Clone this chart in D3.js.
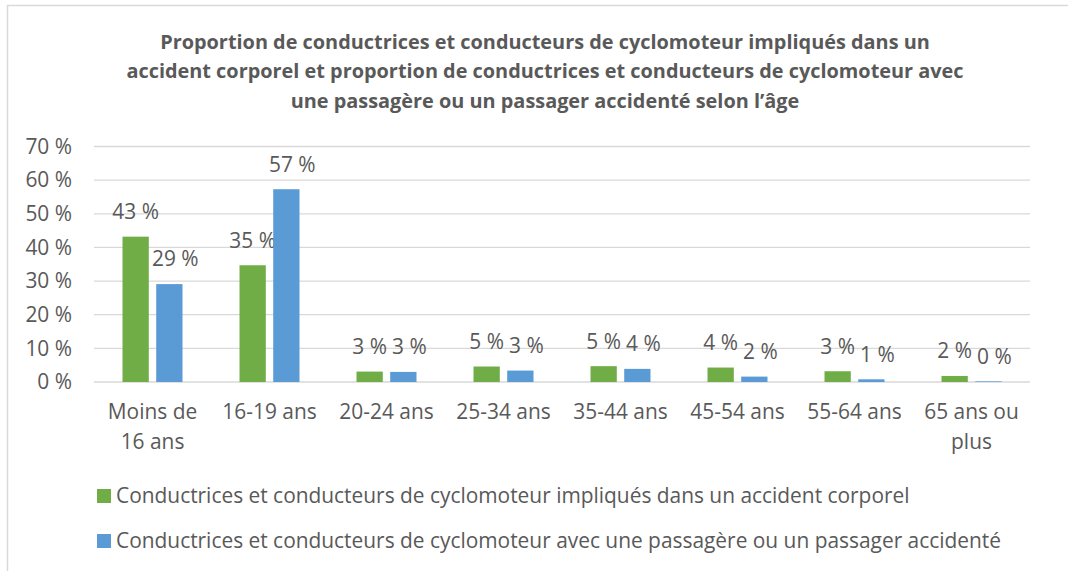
<!DOCTYPE html>
<html>
<head>
<meta charset="utf-8">
<script src="https://cdn.jsdelivr.net/npm/d3@7"></script>
<style>
  body { margin: 0; background: #fff; }
  text { font-family: "Open Sans", sans-serif; fill: #595959; }
</style>
</head>
<body>
<div id="chart"></div>
<script>
// data
var categories = ["Moins de 16 ans", "16-19 ans", "20-24 ans", "25-34 ans", "35-44 ans", "45-54 ans", "55-64 ans", "65 ans ou plus"];
var catLines = [["Moins de", "16 ans"], ["16-19 ans"], ["20-24 ans"], ["25-34 ans"], ["35-44 ans"], ["45-54 ans"], ["55-64 ans"], ["65 ans ou", "plus"]];
var impliques = [43.2, 34.7, 3.1, 4.6, 4.7, 4.3, 3.2, 1.8];
var passagers = [29.1, 57.3, 3.0, 3.4, 3.9, 1.6, 0.8, 0.2];
var labelsImpliques = ["43 %", "35 %", "3 %", "5 %", "5 %", "4 %", "3 %", "2 %"];
var labelsPassagers = ["29 %", "57 %", "3 %", "3 %", "4 %", "2 %", "1 %", "0 %"];
var yTicks = [0, 10, 20, 30, 40, 50, 60, 70];
var seriesNames = [
    "Conductrices et conducteurs de cyclomoteur impliqués dans un accident corporel",
    "Conductrices et conducteurs de cyclomoteur avec une passagère ou un passager accidenté"
];
var titleLines = [
    "Proportion de conductrices et conducteurs de cyclomoteur impliqués dans un",
    "accident corporel et proportion de conductrices et conducteurs de cyclomoteur avec",
    "une passagère ou un passager accidenté selon l’âge"
];

var width = 1068, height = 571;
var colors = ["#70AD47", "#5B9BD5"];

var svg = d3.select("#chart").append("svg")
    .attr("width", width)
    .attr("height", height);

// size a font so that a sample string takes a given width
function fitSize(str, target, weight) {
    var t = svg.append("text")
        .style("font-size", "20px")
        .style("font-weight", weight)
        .text(str);
    var w = t.node().getComputedTextLength();
    t.remove();
    return 20 * target / w;
}
var fsTitle = fitSize(titleLines[0], 770, "bold");
var fs = fitSize(seriesNames[0], 794, "normal");

// chart border
svg.append("rect")
    .attr("x", 7.5).attr("y", 5.5)
    .attr("width", width + 10).attr("height", height + 10)
    .style("fill", "none")
    .style("stroke", "#D9D9D9")
    .style("stroke-width", 1.5);

// title
svg.append("g").selectAll("text")
    .data(titleLines)
    .enter().append("text")
    .attr("x", 545)
    .attr("y", function (d, i) { return 42 + i * 29.5; })
    .attr("dy", "0.35em")
    .attr("text-anchor", "middle")
    .style("font-size", fsTitle + "px")
    .style("font-weight", "bold")
    .text(function (d) { return d; });

var plot = {left: 94, right: 1030, top: 146.5, bottom: 382};

var x0 = d3.scaleBand()
    .domain(categories)
    .range([plot.left, plot.right])
    .paddingInner(0)
    .paddingOuter(0);

var x1 = d3.scaleBand()
    .domain([0, 1])
    .range([x0.bandwidth() / 2 - 30, x0.bandwidth() / 2 + 30])
    .paddingInner(0.22);

var y = d3.scaleLinear()
    .domain([0, 70])
    .range([plot.bottom, plot.top]);

// gridlines
svg.append("g").selectAll("line")
    .data(yTicks)
    .enter().append("line")
    .attr("x1", plot.left).attr("x2", plot.right)
    .attr("y1", function (d) { return y(d); })
    .attr("y2", function (d) { return y(d); })
    .style("stroke", "#D9D9D9")
    .style("stroke-width", 1.3);

// y axis labels
var yAxis = d3.axisLeft(y)
    .tickValues(yTicks)
    .tickSize(0)
    .tickPadding(0)
    .tickFormat(function (d) { return d + " %"; });

svg.append("g")
    .attr("transform", "translate(72,0)")
    .call(yAxis)
    .call(function (g) { g.select(".domain").remove(); })
    .selectAll("text")
    .style("font-size", fs + "px")
    .style("font-family", "'Open Sans', sans-serif")
    .style("fill", "#595959");

// bars
var series = [
    {values: impliques, labels: labelsImpliques, dx: 0},
    {values: passagers, labels: labelsPassagers, dx: 6}
];

series.forEach(function (s, si) {
    var g = svg.append("g").attr("class", "series" + si);
    g.selectAll("rect")
        .data(categories)
        .enter().append("rect")
        .attr("x", function (d) { return x0(d) + x1(si); })
        .attr("width", x1.bandwidth())
        .attr("y", function (d, i) { return y(s.values[i]); })
        .attr("height", function (d, i) { return y(0) - y(s.values[i]); })
        .style("fill", colors[si]);

    g.selectAll("text")
        .data(categories)
        .enter().append("text")
        .attr("x", function (d) { return x0(d) + x1(si) + x1.bandwidth() / 2 + s.dx; })
        .attr("y", function (d, i) { return y(s.values[i]) - 25; })
        .attr("dy", "0.35em")
        .attr("text-anchor", "middle")
        .style("font-size", fs + "px")
        .text(function (d, i) { return s.labels[i]; });
});

// x axis labels
var xLab = svg.append("g").selectAll("g")
    .data(categories)
    .enter().append("g")
    .attr("transform", function (d) {
        return "translate(" + (x0(d) + x0.bandwidth() / 2) + ",0)";
    });

xLab.selectAll("text")
    .data(function (d, i) { return catLines[i]; })
    .enter().append("text")
    .attr("x", 0)
    .attr("y", function (d, i) { return 412 + i * 29.5; })
    .attr("dy", "0.35em")
    .attr("text-anchor", "middle")
    .style("font-size", fs + "px")
    .text(function (d) { return d; });

// legend
var legend = svg.append("g").selectAll("g")
    .data(seriesNames)
    .enter().append("g")
    .attr("transform", function (d, i) {
        return "translate(97," + (496 + i * 45) + ")";
    });

legend.append("rect")
    .attr("x", 0).attr("y", -7)
    .attr("width", 14).attr("height", 14)
    .style("fill", function (d, i) { return colors[i]; });

legend.append("text")
    .attr("x", 19)
    .attr("y", 0)
    .attr("dy", "0.35em")
    .style("font-size", fs + "px")
    .text(function (d) { return d; });
</script>
</body>
</html>
